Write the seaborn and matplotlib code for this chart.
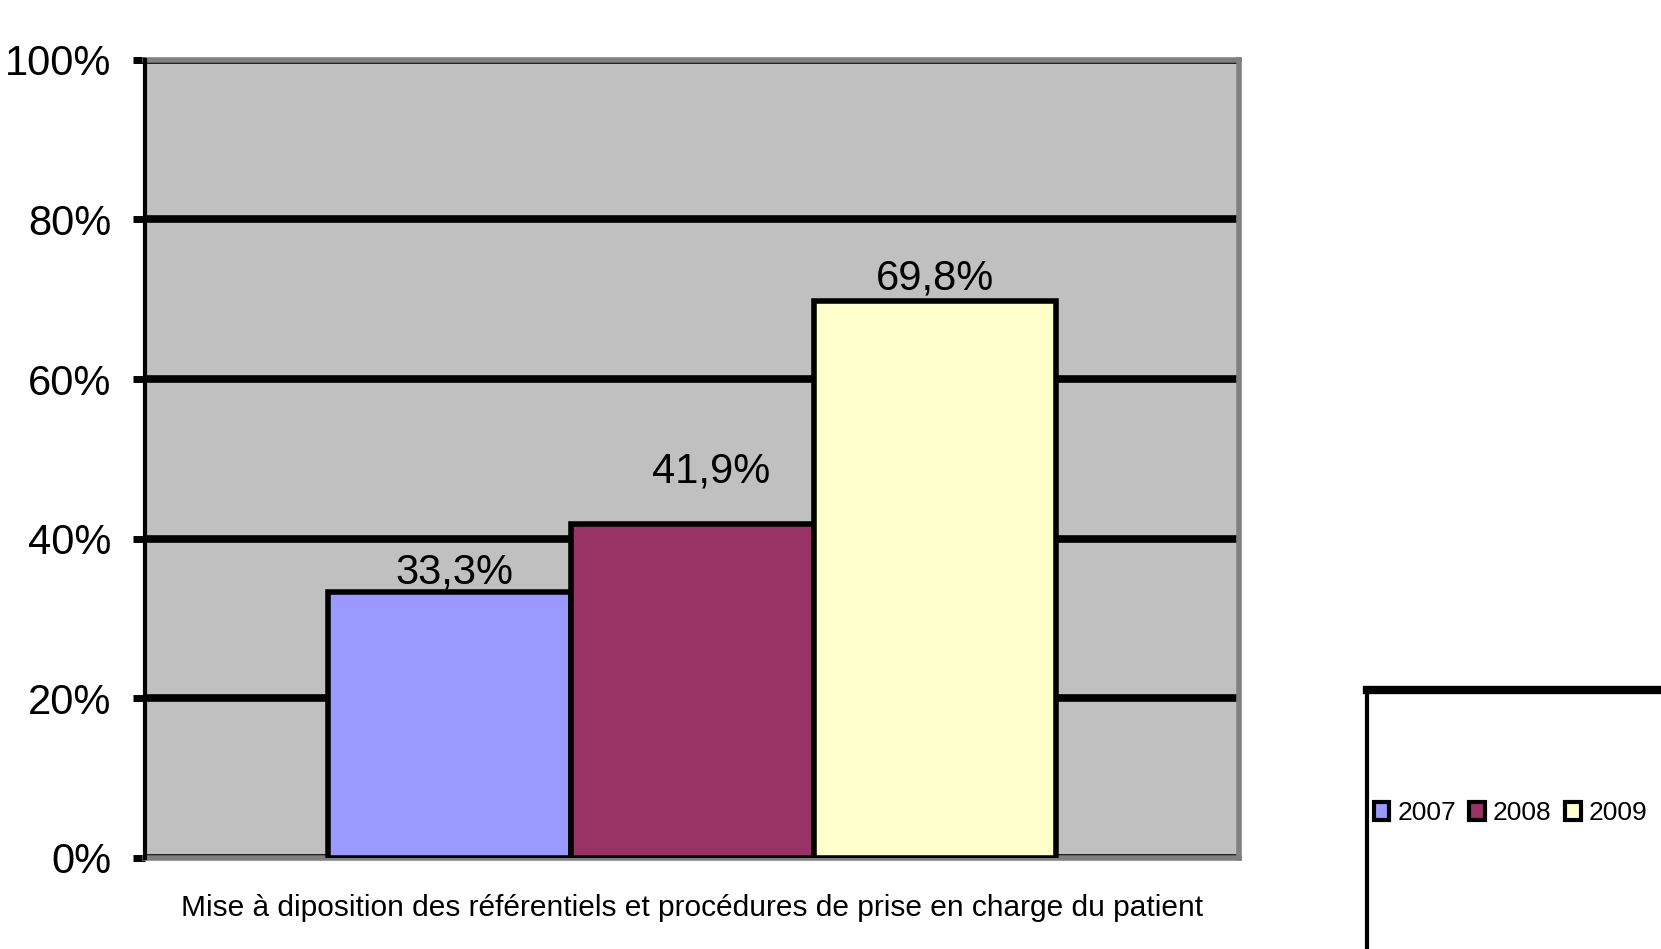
import matplotlib
matplotlib.use('Agg')
import matplotlib.pyplot as plt
from matplotlib.patches import Patch, Rectangle
from matplotlib.lines import Line2D
from matplotlib.ticker import PercentFormatter
import seaborn as sns
import pandas as pd

# Data
category = ["Mise à diposition des référentiels et procédures de prise en charge du patient"]
years = ['2007', '2008', '2009']
values = [33.3, 41.9, 69.8]
value_labels = ['33,3%', '41,9%', '69,8%']
colors = ['#9999FF', '#993366', '#FFFFCC']
yticks = [0, 20, 40, 60, 80, 100]

df = pd.DataFrame({'cat': category * len(years), 'year': years, 'val': values})

plt.rcParams['font.family'] = ['Liberation Sans', 'DejaVu Sans']

fig = plt.figure(figsize=(16.61, 9.49), dpi=100)
ax = fig.add_axes([0.0873, 0.0959, 0.746 - 0.0873, 0.937 - 0.0959])

sns.barplot(data=df, x='cat', y='val', hue='year', palette=colors, width=0.666,
            edgecolor='black', linewidth=4, saturation=1, legend=False, ax=ax, zorder=2)

ax.set_facecolor('#C0C0C0')
ax.set_xlim(-0.5, 0.5)
ax.set_ylim(0, 100)
ax.set_yticks(yticks)
ax.yaxis.set_major_formatter(PercentFormatter(decimals=0))
ax.set_axisbelow(True)
ax.yaxis.grid(True, color='black', linewidth=5.5)
ax.xaxis.grid(False)
ax.set_xlabel('')
ax.set_ylabel('')

for s in ['top', 'right', 'bottom']:
    ax.spines[s].set_color('#808080')
    ax.spines[s].set_linewidth(4)
ax.spines['bottom'].set_zorder(1)
ax.spines['left'].set_color('black')
ax.spines['left'].set_linewidth(3)
ax.spines['left'].set_zorder(3)

ax.tick_params(axis='y', length=9, width=5, color='black', pad=15, labelsize=30)
ax.tick_params(axis='x', length=0, pad=26, labelsize=21.5)

# value labels
label_offsets = [(4, 6.5), (14, 29.5), (0, 8)]
for cont, lab, off in zip(ax.containers, value_labels, label_offsets):
    bar = cont.patches[0]
    ax.annotate(lab, (bar.get_x() + bar.get_width() / 2, bar.get_height()),
                xytext=off, textcoords='offset points', ha='center', va='baseline',
                fontsize=30, zorder=5)

# legend
fig.add_artist(Rectangle((0.823, -0.1), 0.25, 0.373, transform=fig.transFigure,
                         fill=False, edgecolor='black', linewidth=3))
fig.add_artist(Line2D([0.823, 1.0], [0.273, 0.273], transform=fig.transFigure,
                      color='black', linewidth=6))
handles = [Patch(facecolor=c, edgecolor='black', linewidth=3) for c in colors]
fig.legend(handles, years, loc='center left', bbox_to_anchor=(0.827, 0.143),
           ncol=3, frameon=False, fontsize=19, handlelength=0.6, handleheight=0.7,
           handletextpad=0.3, columnspacing=0.5, borderaxespad=0, borderpad=0)

fig.savefig('out.png', dpi=100)
